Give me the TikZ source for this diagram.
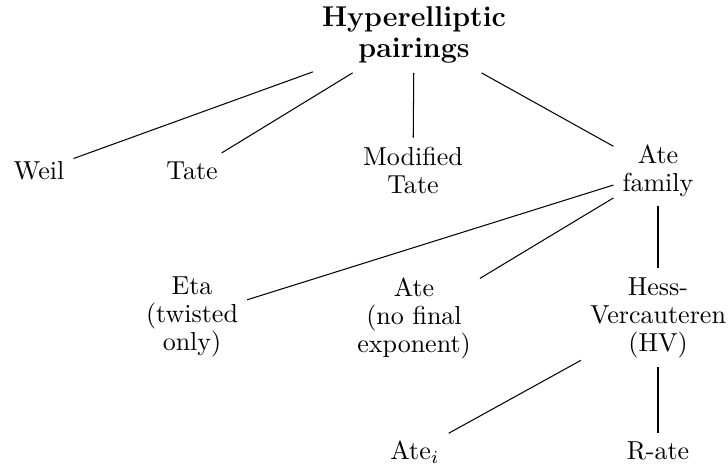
\documentclass[tikz,border=0pt]{standalone}
\begin{document}
\begin{tikzpicture}[every node/.style={align=center, font=\fontsize{10}{10.8}\selectfont},
  rootnode/.style={font=\fontsize{11}{12}\selectfont\bfseries}]

\useasboundingbox (0,0) rectangle (9.838,6.284);
\node [rootnode] (v1) at (5.595,5.807) {Hyperelliptic\\pairings};
\node (v2) at (0.527,3.973) {Weil};
\node (v3) at (2.595,3.972) {Tate};
\node (v4) at (5.581,3.984) {Modified\\Tate};
\node (v5) at (8.892,3.972) {Ate\\family};
\node (v6) at (2.595,2.0) {Eta\\(twisted\\only)};
\node (v7) at (5.595,1.986) {Ate\\(no final\\exponent)};
\node (v8) at (8.892,1.989) {Hess-\\Vercauteren\\(HV)};
\node (v9) at (5.608,0.178) {Ate$_i$};
\node (v10) at (8.892,0.185) {R-ate};

\draw (v1) edge (v2);
\draw (v1) edge (v3);
\draw (v1) edge (v4);
\draw (v1) edge (v5);
\draw (v5) edge (v6);
\draw (v5) edge (v7);
\draw (v5) edge (v8);
\draw (v8) edge (v9);
\draw (v8) edge (v10);
\end{tikzpicture}
\end{document}
